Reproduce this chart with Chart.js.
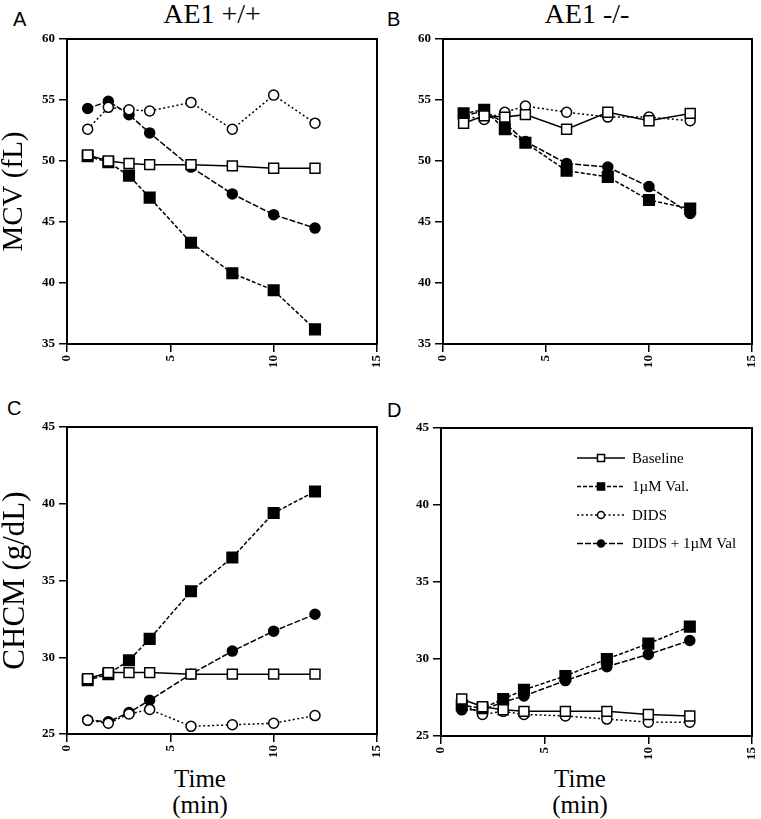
<!DOCTYPE html>
<html>
<head>
<meta charset="utf-8">
<script src="https://cdn.jsdelivr.net/npm/chart.js@4.4.1/dist/chart.umd.min.js"></script>
<style>
  html, body { margin:0; padding:0; background:#fff; }
  body { width:761px; height:819px; position:relative; overflow:hidden; }
  canvas { position:absolute; }
  .lbl { position:absolute; color:#000; white-space:nowrap; }
  .letter { font-family:"Liberation Sans", Arial, sans-serif; font-size:20px; line-height:20px; }
  .ctitle { font-family:"Liberation Serif", "Times New Roman", serif; font-size:28px; line-height:28px; text-align:center; width:200px; }
  .xtitle { font-family:"Liberation Serif", "Times New Roman", serif; font-size:25px; line-height:26px; text-align:center; width:120px; }
</style>
</head>
<body>
<div class="lbl letter" style="left:13px; top:9px;">A</div>
<div class="lbl letter" style="left:387px; top:9px;">B</div>
<div class="lbl letter" style="left:7px; top:398px;">C</div>
<div class="lbl letter" style="left:387px; top:400px;">D</div>
<div class="lbl ctitle" style="left:112px; top:0px;">AE1 +/+</div>
<div class="lbl ctitle" style="left:487px; top:0px;">AE1 -/-</div>
<div class="lbl xtitle" style="left:140px; top:766px;">Time<br>(min)</div>
<div class="lbl xtitle" style="left:520px; top:766px;">Time<br>(min)</div>

<canvas id="cA" width="392" height="340" style="left:0px; top:30px;"></canvas>
<canvas id="cB" width="381" height="340" style="left:380px; top:30px;"></canvas>
<canvas id="cC" width="392" height="345" style="left:0px; top:415px;"></canvas>
<canvas id="cD" width="381" height="347" style="left:380px; top:415px;"></canvas>

<script>
// ---- data ----
const times = [1, 2, 3, 4, 6, 8, 10, 12];
const xTicks = [0, 5, 10, 15];
const mcvTicks = [35, 40, 45, 50, 55, 60];
const chcmTicks = [25, 30, 35, 40, 45];
const seriesLabels = ['Baseline', '1µM Val.', 'DIDS', 'DIDS + 1µM Val'];

// Panel A: MCV, AE1 +/+
const mcvWtBaseline = [50.5, 50.0, 49.8, 49.7, 49.7, 49.6, 49.4, 49.4];
const mcvWtVal      = [50.4, 49.9, 48.8, 47.0, 43.3, 40.8, 39.4, 36.2];
const mcvWtDids     = [52.6, 54.4, 54.2, 54.1, 54.8, 52.6, 55.4, 53.1];
const mcvWtDidsVal  = [54.3, 54.9, 53.8, 52.3, 49.5, 47.3, 45.6, 44.5];
// Panel B: MCV, AE1 -/-
const mcvKoBaseline = [53.1, 53.7, 53.6, 53.8, 52.6, 54.0, 53.3, 53.9];
const mcvKoVal      = [53.9, 54.2, 52.6, 51.5, 49.2, 48.7, 46.8, 46.1];
const mcvKoDids     = [53.7, 53.4, 54.0, 54.5, 54.0, 53.6, 53.6, 53.3];
const mcvKoDidsVal  = [53.7, 54.1, 53.1, 51.6, 49.8, 49.5, 47.9, 45.7];
// Panel C: CHCM, AE1 +/+
const chcmWtBaseline = [28.6, 29.0, 29.0, 29.0, 28.9, 28.9, 28.9, 28.9];
const chcmWtVal      = [28.5, 28.9, 29.8, 31.2, 34.3, 36.5, 39.4, 40.8];
const chcmWtDids     = [25.9, 25.7, 26.3, 26.6, 25.5, 25.6, 25.7, 26.2];
const chcmWtDidsVal  = [25.9, 25.8, 26.4, 27.2, 28.9, 30.4, 31.7, 32.8];
// Panel D: CHCM, AE1 -/-
const chcmKoBaseline = [27.4, 26.9, 26.7, 26.6, 26.6, 26.6, 26.4, 26.3];
const chcmKoVal      = [27.0, 26.8, 27.4, 28.0, 28.9, 30.0, 31.0, 32.1];
const chcmKoDids     = [27.1, 26.4, 26.6, 26.4, 26.3, 26.1, 25.9, 25.9];
const chcmKoDidsVal  = [26.7, 26.7, 27.2, 27.6, 28.6, 29.5, 30.3, 31.2];

// ---- styling helpers ----
const SERIF = '"Liberation Serif", "Times New Roman", serif';
const styles = [
  { dash: [],       pointStyle: 'rect',   radius: 7,   fill: '#fff', lradius: 5 },
  { dash: [4, 2],   pointStyle: 'rect',   radius: 7.5, fill: '#000', lradius: 5 },
  { dash: [2, 2.5], pointStyle: 'circle', radius: 5,   fill: '#fff', lradius: 3.5 },
  { dash: [6, 2],   pointStyle: 'circle', radius: 5,   fill: '#000', lradius: 3.5 }
];

function toXY(vals) { return times.map((t, i) => ({ x: t, y: vals[i] })); }

function makeDatasets(seriesList) {
  return seriesList.map((vals, i) => {
    const s = styles[i];
    return {
      label: seriesLabels[i],
      data: toXY(vals),
      borderColor: '#000',
      borderWidth: 1.5,
      borderDash: s.dash,
      pointStyle: s.pointStyle,
      pointRadius: s.radius,
      pointHoverRadius: s.radius,
      pointBackgroundColor: s.fill,
      pointBorderColor: '#000',
      pointBorderWidth: 1.5,
      legendRadius: s.lradius,
      tension: 0,
      clip: false
    };
  });
}

const framePlugin = {
  id: 'frame',
  beforeDatasetsDraw(chart) {
    const { ctx, chartArea: a } = chart;
    ctx.save();
    ctx.strokeStyle = '#000';
    ctx.lineWidth = 2;
    ctx.strokeRect(a.left, a.top, a.right - a.left, a.bottom - a.top);
    ctx.restore();
  }
};

const legendPlugin = {
  id: 'panelLegend',
  afterDatasetsDraw(chart, args, opts) {
    if (!opts || !opts.show) return;
    const { ctx, chartArea: a } = chart;
    chart.data.datasets.forEach((ds, i) => {
      const y = a.top + opts.rowStart + i * opts.rowGap;
      const x0 = a.left + opts.lineStart;
      const x1 = x0 + opts.lineLen;
      ctx.save();
      ctx.strokeStyle = ds.borderColor;
      ctx.lineWidth = ds.borderWidth;
      ctx.setLineDash(ds.borderDash || []);
      ctx.beginPath();
      ctx.moveTo(x0, y);
      ctx.lineTo(x1, y);
      ctx.stroke();
      ctx.setLineDash([]);
      ctx.fillStyle = ds.pointBackgroundColor;
      ctx.strokeStyle = ds.pointBorderColor;
      ctx.lineWidth = ds.pointBorderWidth;
      Chart.helpers.drawPoint(ctx, { pointStyle: ds.pointStyle, radius: ds.legendRadius, borderWidth: ds.pointBorderWidth, rotation: 0 }, (x0 + x1) / 2, y);
      ctx.fillStyle = '#000';
      ctx.font = opts.font;
      ctx.textBaseline = 'middle';
      ctx.textAlign = 'left';
      ctx.fillText(ds.label, a.left + opts.textStart, y + 1);
      ctx.restore();
    });
  }
};

function makeChart(id, cfg) {
  const tickFont = { family: SERIF, size: 13, weight: 'bold' };
  const gridCfg = { display: true, drawOnChartArea: false, drawTicks: true, tickLength: 8, color: '#000', lineWidth: 1.5 };
  return new Chart(document.getElementById(id), {
    type: 'line',
    data: { datasets: makeDatasets(cfg.series) },
    plugins: [framePlugin, legendPlugin],
    options: {
      responsive: false,
      animation: false,
      events: [],
      layout: { padding: { left: 0, right: cfg.padRight, top: cfg.padTop, bottom: 0 } },
      plugins: {
        legend: { display: false },
        tooltip: { enabled: false },
        panelLegend: cfg.legend || { show: false }
      },
      scales: {
        x: {
          type: 'linear',
          min: xTicks[0],
          max: xTicks[xTicks.length - 1],
          afterBuildTicks(s) { s.ticks = xTicks.map(v => ({ value: v })); },
          ticks: { maxRotation: 90, minRotation: 90, font: tickFont, color: '#000', padding: 3 },
          grid: gridCfg,
          border: { display: false },
          afterFit(s) { s.height = cfg.xHeight; s.paddingLeft = 0; s.paddingRight = 0; }
        },
        y: {
          type: 'linear',
          min: cfg.yTicks[0],
          max: cfg.yTicks[cfg.yTicks.length - 1],
          afterBuildTicks(s) { s.ticks = cfg.yTicks.map(v => ({ value: v })); },
          ticks: { font: tickFont, color: '#000', padding: 4 },
          grid: gridCfg,
          border: { display: false },
          title: {
            display: !!cfg.yTitle,
            text: cfg.yTitle || '',
            color: '#000',
            font: { family: SERIF, size: cfg.yTitleSize || 28, lineHeight: 1 },
            padding: 0
          },
          afterFit(s) { s.width = cfg.yWidth; s.paddingTop = 0; s.paddingBottom = 0; }
        }
      }
    }
  });
}

makeChart('cA', { series: [mcvWtBaseline, mcvWtVal, mcvWtDids, mcvWtDidsVal], yTicks: mcvTicks,
  yTitle: 'MCV (fL)', yTitleSize: 29, yWidth: 67, xHeight: 26, padTop: 7.5, padRight: 15 });
makeChart('cB', { series: [mcvKoBaseline, mcvKoVal, mcvKoDids, mcvKoDidsVal], yTicks: mcvTicks,
  yWidth: 63, xHeight: 26, padTop: 8, padRight: 9 });
makeChart('cC', { series: [chcmWtBaseline, chcmWtVal, chcmWtDids, chcmWtDidsVal], yTicks: chcmTicks,
  yTitle: 'CHCM (g/dL)', yTitleSize: 31, yWidth: 67, xHeight: 26, padTop: 12, padRight: 15 });
makeChart('cD', { series: [chcmKoBaseline, chcmKoVal, chcmKoDids, chcmKoDidsVal], yTicks: chcmTicks,
  yWidth: 61, xHeight: 26, padTop: 13, padRight: 9,
  legend: { show: true, rowStart: 30, rowGap: 28.5, lineStart: 136, lineLen: 48, textStart: 191,
            font: '15px "Liberation Serif", "Times New Roman", serif' } });
</script>
</body>
</html>
